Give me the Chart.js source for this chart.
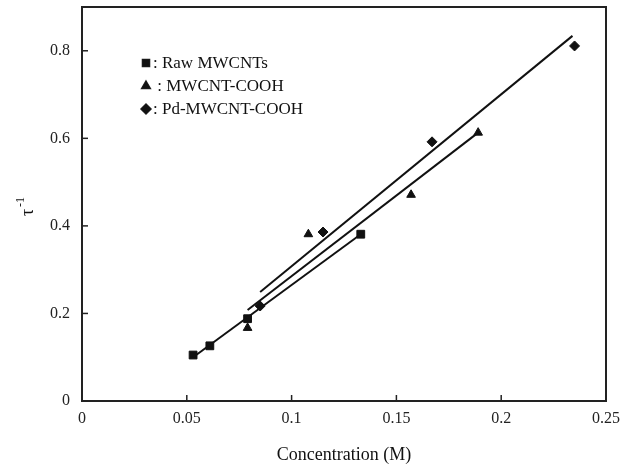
<!DOCTYPE html>
<html>
<head>
<meta charset="utf-8">
<script src="https://cdn.jsdelivr.net/npm/chart.js@4.4.0/dist/chart.umd.min.js"></script>
<style>
  html, body { margin: 0; padding: 0; background: #fff; }
  #wrap { width: 634px; height: 466px; position: relative; }
</style>
</head>
<body>
<div id="wrap"><canvas id="chartTau"></canvas></div>
<script>
// --- DONNEES ---
const rawX = [0.053, 0.061, 0.079, 0.133];
const rawY = [0.105, 0.126, 0.188, 0.381];
const cooX = [0.079, 0.108, 0.157, 0.189];
const cooY = [0.167, 0.381, 0.471, 0.613];
const pdX = [0.085, 0.115, 0.167, 0.235];
const pdY = [0.217, 0.386, 0.592, 0.811];

// droites de regression (extremites)
const rawFitX = [0.053, 0.133], rawFitY = [0.100, 0.381];
const cooFitX = [0.079, 0.189], cooFitY = [0.208, 0.613];
const pdFitX = [0.085, 0.234], pdFitY = [0.249, 0.834];

const xTicks = [0, 0.05, 0.1, 0.15, 0.2, 0.25];
const yTicks = [0, 0.2, 0.4, 0.6, 0.8];
const legendLabels = [': Raw MWCNTs', ' : MWCNT-COOH', ': Pd-MWCNT-COOH'];
const legendStyles = ['rect', 'triangle', 'rectRot'];

const serif = '"Liberation Serif", "Times New Roman", serif';

function pts(xs, ys) { return xs.map((x, i) => ({ x: x, y: ys[i] })); }

function fitSet(xs, ys) {
    return { data: pts(xs, ys), showLine: true, borderColor: '#111', borderWidth: 2, pointRadius: 0, fill: false };
}
function markSet(xs, ys, style, r) {
    return { data: pts(xs, ys), pointStyle: style, pointRadius: r, backgroundColor: '#111', borderColor: '#111', borderWidth: 1, showLine: false };
}

// --- CADRE, TICKS INTERIEURS, TITRE Y, LEGENDE ---
const framePlugin = {
    id: 'frame',
    afterDraw(chart) {
        const ctx = chart.ctx, a = chart.chartArea;
        const xs = chart.scales.x, ys = chart.scales.y;
        ctx.save();
        ctx.strokeStyle = '#222'; ctx.lineWidth = 2;
        ctx.strokeRect(a.left, a.top, a.right - a.left, a.bottom - a.top);
        ctx.lineWidth = 1.5;
        xTicks.forEach(v => { let px = xs.getPixelForValue(v); ctx.beginPath(); ctx.moveTo(px, a.bottom); ctx.lineTo(px, a.bottom - 6); ctx.stroke(); });
        yTicks.forEach(v => { let py = ys.getPixelForValue(v); ctx.beginPath(); ctx.moveTo(a.left, py); ctx.lineTo(a.left + 6, py); ctx.stroke(); });

        // titre Y : tau^-1
        ctx.fillStyle = '#111';
        ctx.translate(33, 208);
        ctx.rotate(-Math.PI / 2);
        ctx.textBaseline = 'alphabetic';
        ctx.font = '18px ' + serif;
        ctx.fillText('τ', -8, 0);
        ctx.font = '12px ' + serif;
        ctx.fillText('-1', 1, -9);
        ctx.setTransform(1, 0, 0, 1, 0, 0);

        // legende
        ctx.font = '17px ' + serif;
        ctx.textBaseline = 'middle';
        legendLabels.forEach((t, i) => {
            let y = 63 + i * 23;
            Chart.helpers.drawPoint(ctx, { pointStyle: legendStyles[i], radius: 5, borderWidth: 1 }, 146, y);
            ctx.fillStyle = '#111';
            ctx.fill();
            ctx.fillText(t, 153, y + 1);
        });
        ctx.restore();
    }
};

new Chart(document.getElementById('chartTau').getContext('2d'), {
    type: 'scatter',
    data: {
        datasets: [
            fitSet(rawFitX, rawFitY),
            fitSet(cooFitX, cooFitY),
            fitSet(pdFitX, pdFitY),
            markSet(rawX, rawY, 'rect', 5.5),
            markSet(cooX, cooY, 'triangle', 5),
            markSet(pdX, pdY, 'rectRot', 5)
        ]
    },
    options: {
        responsive: true, maintainAspectRatio: false, animation: false,
        layout: { padding: { top: 7, right: 28, left: 0, bottom: 0 } },
        plugins: { legend: { display: false }, tooltip: { enabled: false } },
        scales: {
            x: {
                type: 'linear', min: 0, max: 0.25,
                afterBuildTicks(s) { s.ticks = xTicks.map(v => ({ value: v })); },
                afterFit(s) { s.height = 65; },
                grid: { display: false, drawTicks: false },
                border: { display: false },
                ticks: { color: '#222', font: { family: serif, size: 16 }, padding: 8, maxRotation: 0, callback: v => String(v) },
                title: { display: true, text: 'Concentration (M)', color: '#111', font: { family: serif, size: 18 }, padding: { top: 16, bottom: 0 } }
            },
            y: {
                type: 'linear', min: 0, max: 0.9,
                afterBuildTicks(s) { s.ticks = yTicks.map(v => ({ value: v })); },
                afterFit(s) { s.width = 82; s.paddingTop = 0; s.paddingBottom = 0; },
                grid: { display: false, drawTicks: false },
                border: { display: false },
                ticks: { color: '#222', font: { family: serif, size: 16 }, padding: 12, callback: v => String(v) }
            }
        }
    },
    plugins: [framePlugin]
});
</script>
</body>
</html>
